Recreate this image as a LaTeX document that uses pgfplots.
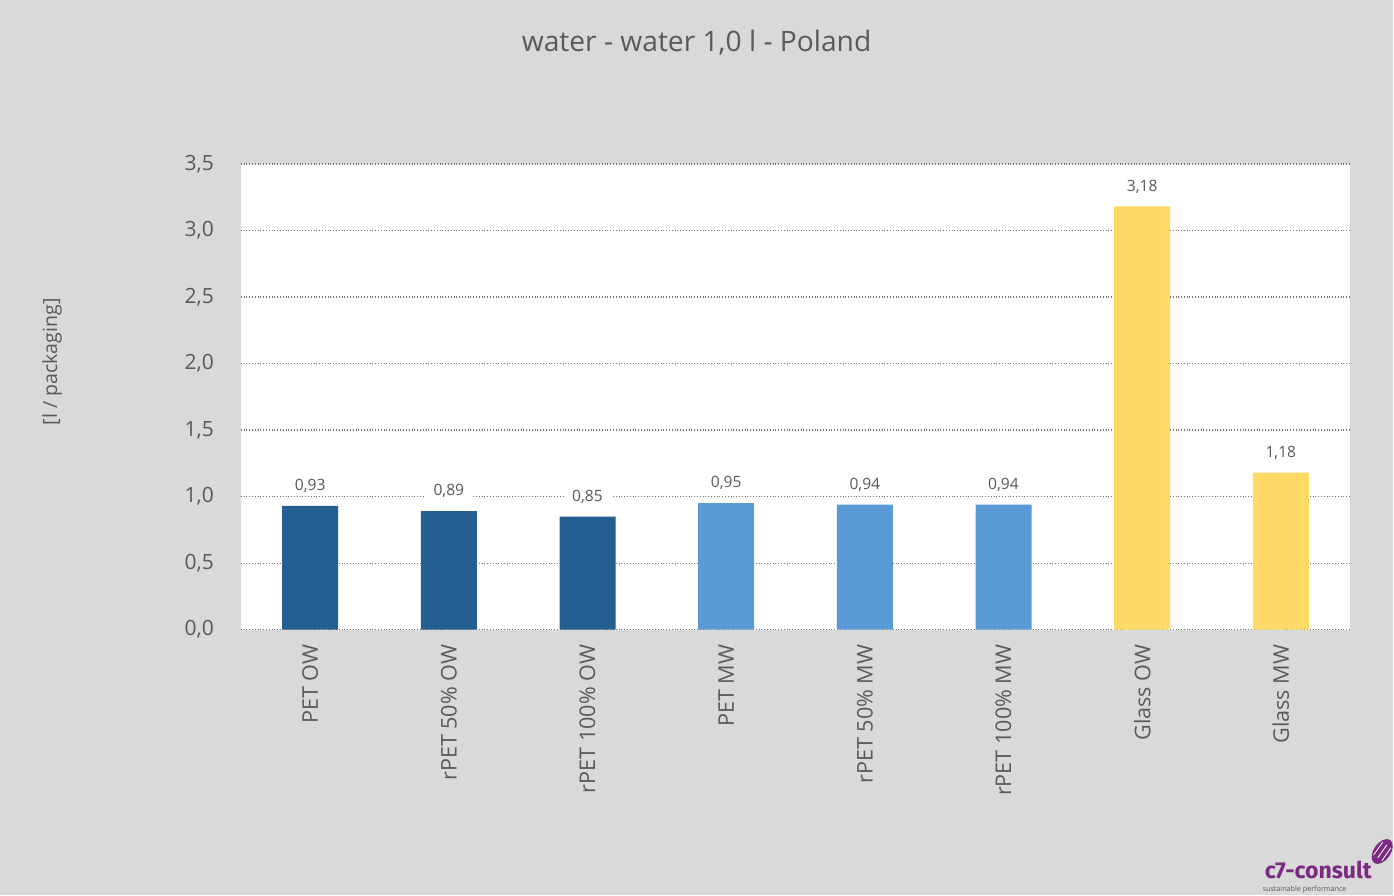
\documentclass[border=0pt]{standalone}
\usepackage{fontspec}
\setmainfont{Open Sans}
\setsansfont{Open Sans}
\newfontfamily\logofont{Fira Sans}
\usepackage{pgfplots}
\pgfplotsset{compat=1.18}

\definecolor{bg}{HTML}{D9D9D9}
\definecolor{txt}{HTML}{595959}
\definecolor{darkblue}{HTML}{255E91}
\definecolor{lightblue}{HTML}{5B9BD5}
\definecolor{gold}{HTML}{FFD966}
\definecolor{logo}{HTML}{7A2A82}

\begin{document}
\begin{tikzpicture}
% page background (1px = 0.5pt, plot area lower left at 241,630 px)
\fill[bg] (-120.5pt,-133pt) rectangle (576.5pt,315pt);

\begin{axis}[
    at={(0,0)}, anchor=south west,
    scale only axis, width=555pt, height=233pt,
    ybar, bar width=28pt,
    xmin=-0.5, xmax=7.5, ymin=0, ymax=3.5,
    xtick={0,...,7},
    xticklabels={PET OW, rPET 50\% OW, rPET 100\% OW, PET MW, rPET 50\% MW, rPET 100\% MW, Glass OW, Glass MW},
    xticklabel style={rotate=90, anchor=east, font=\fontsize{10.8}{12}\selectfont, text=txt, xshift=-4pt},
    ytick={0,0.5,...,3.5},
    yticklabel style={font=\fontsize{10.5}{12}\selectfont, text=txt, xshift=-10pt,
        /pgf/number format/fixed, /pgf/number format/fixed zerofill,
        /pgf/number format/precision=1, /pgf/number format/use comma},
    /pgf/number format/assume math mode=true,
    major tick length=0pt,
    axis line style={draw=none},
    axis background/.style={fill=white},
    ymajorgrids, grid style={densely dotted, black!55, line width=0.6pt},
    nodes near coords,
    every node near coord/.append style={font=\fontsize{7.8}{10}\selectfont, text=txt,
        fill=white, inner xsep=4pt, inner ysep=1.5pt, anchor=south, yshift=5pt,
        /pgf/number format/fixed, /pgf/number format/fixed zerofill,
        /pgf/number format/precision=2, /pgf/number format/use comma},
    clip=false,
]
\addplot[fill=darkblue, draw=none, bar shift=0pt] coordinates {(0,0.93) (1,0.89) (2,0.85)};
\addplot[fill=lightblue, draw=none, bar shift=0pt] coordinates {(3,0.95) (4,0.94) (5,0.94)};
\addplot[fill=gold, draw=none, bar shift=0pt] coordinates {(6,3.18) (7,1.18)};
\end{axis}

% title
\node[text=txt, font=\fontsize{14.1}{17}\selectfont] at (228pt,293.5pt) {water - water 1,0 l - Poland};
% y label
\node[text=txt, font=\fontsize{9.8}{11}\selectfont, rotate=90] at (-94.5pt,134pt) {[l / packaging]};
% logo
\node[text=logo, font=\fontsize{11.5}{13}\selectfont\logofont\bfseries, anchor=east, inner sep=0pt] at (566pt,-120pt) {c7-consult};
\node[text=txt, font=\fontsize{3.6}{4}\selectfont, anchor=west, inner sep=0pt] at (511pt,-130pt) {sustainable performance};
\fill[logo, rotate around={55:(571pt,-111pt)}] (571pt,-111pt) ellipse (7pt and 4.2pt);
\foreach \d in {-2.5,0,2.5}
  \draw[white, line width=0.4pt, rotate around={55:(571pt,-111pt)}] (567pt,-111pt+\d pt) -- (575pt,-111pt+\d pt);
\end{tikzpicture}
\end{document}
